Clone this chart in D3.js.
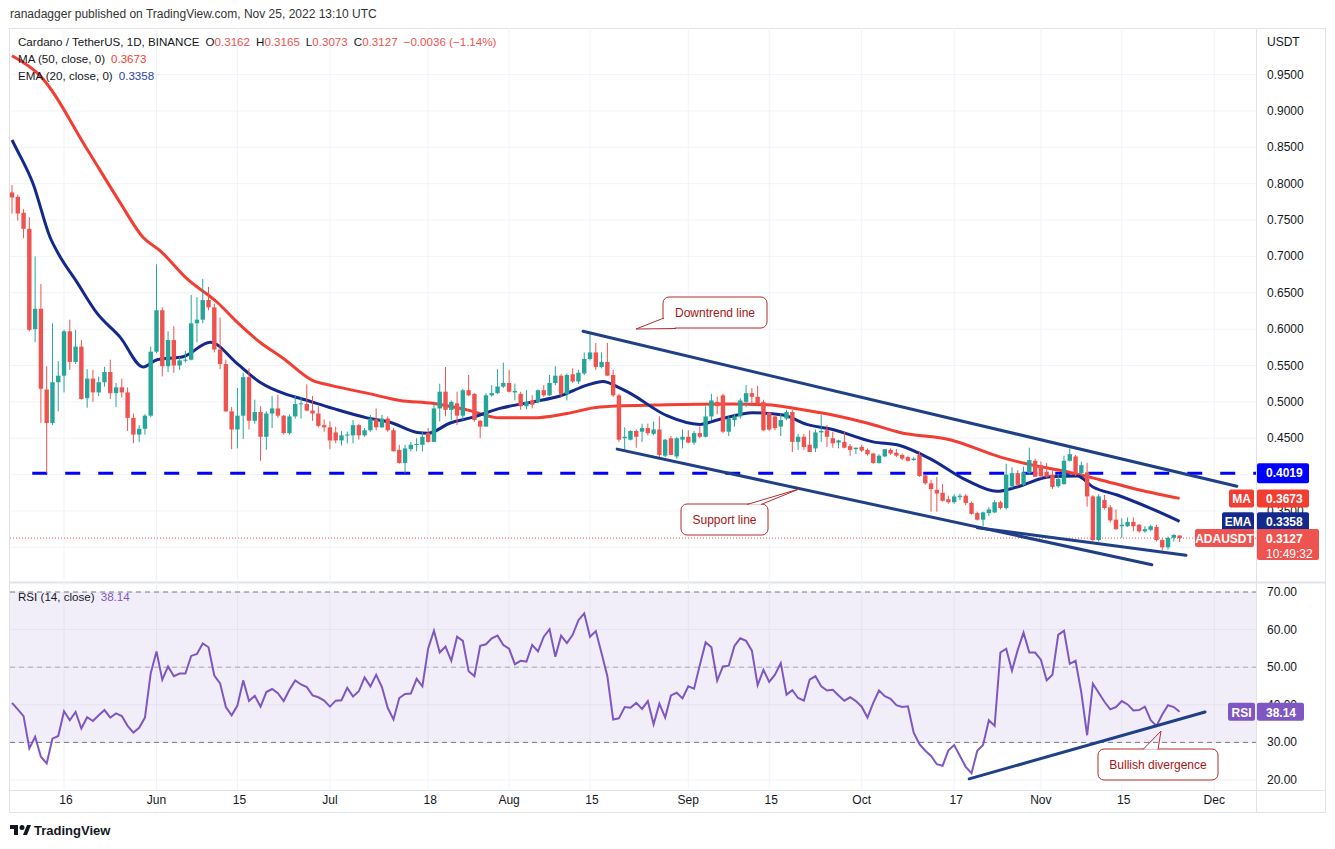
<!DOCTYPE html>
<html>
<head>
<meta charset="utf-8">
<script src="https://cdn.jsdelivr.net/npm/d3@7"></script>
<style>
  html, body { margin: 0; padding: 0; background: #fff; }
  svg { display: block; font-family: "Liberation Sans", Arial, sans-serif; }
</style>
</head>
<body>
<div id="chart"></div>
<script>
// Daily ADA/USDT candles, May 7 .. Nov 25 2022: [open, high, low, close]
const candles = [
  [0.788,0.798,0.759,0.781],[0.782,0.785,0.749,0.759],[0.760,0.765,0.725,0.738],[0.738,0.754,0.597,0.599],
  [0.600,0.700,0.582,0.628],[0.628,0.662,0.471,0.518],[0.517,0.549,0.402,0.471],[0.471,0.608,0.468,0.527],
  [0.527,0.556,0.487,0.536],[0.536,0.599,0.513,0.597],[0.597,0.613,0.544,0.555],[0.555,0.599,0.552,0.576],
  [0.576,0.585,0.503,0.504],[0.505,0.545,0.492,0.532],[0.532,0.544,0.500,0.513],[0.513,0.535,0.508,0.527],
  [0.527,0.548,0.521,0.541],[0.541,0.558,0.504,0.512],[0.512,0.526,0.493,0.520],[0.520,0.532,0.506,0.513],
  [0.513,0.520,0.460,0.478],[0.478,0.484,0.443,0.455],[0.455,0.468,0.445,0.463],[0.463,0.483,0.455,0.481],
  [0.481,0.576,0.479,0.569],[0.569,0.689,0.567,0.626],[0.626,0.630,0.535,0.549],[0.549,0.597,0.541,0.585],
  [0.585,0.604,0.540,0.550],[0.550,0.562,0.544,0.557],[0.557,0.570,0.554,0.558],[0.558,0.647,0.557,0.608],
  [0.608,0.644,0.582,0.613],[0.613,0.669,0.608,0.640],[0.640,0.658,0.626,0.630],[0.630,0.635,0.568,0.572],
  [0.572,0.616,0.545,0.552],[0.552,0.558,0.486,0.487],[0.487,0.493,0.435,0.462],[0.462,0.519,0.436,0.481],
  [0.481,0.540,0.449,0.534],[0.534,0.546,0.462,0.474],[0.474,0.503,0.470,0.486],[0.486,0.494,0.419,0.452],
  [0.452,0.487,0.434,0.484],[0.484,0.508,0.464,0.491],[0.491,0.510,0.478,0.481],[0.481,0.482,0.455,0.457],
  [0.457,0.483,0.455,0.480],[0.480,0.508,0.477,0.497],[0.497,0.507,0.477,0.498],[0.497,0.524,0.487,0.488],
  [0.488,0.508,0.474,0.484],[0.484,0.494,0.465,0.467],[0.468,0.476,0.459,0.465],[0.465,0.473,0.435,0.447],
  [0.458,0.466,0.443,0.447],[0.447,0.460,0.440,0.454],[0.454,0.459,0.443,0.455],[0.454,0.475,0.443,0.468],
  [0.468,0.470,0.448,0.454],[0.454,0.464,0.452,0.461],[0.461,0.482,0.459,0.477],[0.476,0.491,0.461,0.465],
  [0.465,0.482,0.464,0.477],[0.477,0.480,0.459,0.461],[0.461,0.464,0.432,0.432],[0.434,0.441,0.415,0.416],
  [0.416,0.441,0.402,0.436],[0.435,0.445,0.432,0.441],[0.441,0.450,0.432,0.442],[0.441,0.459,0.432,0.452],
  [0.457,0.464,0.444,0.445],[0.445,0.498,0.445,0.491],[0.491,0.525,0.473,0.514],[0.514,0.548,0.480,0.489],
  [0.489,0.502,0.475,0.500],[0.498,0.514,0.468,0.481],[0.481,0.518,0.475,0.516],[0.516,0.537,0.508,0.509],
  [0.511,0.512,0.473,0.475],[0.474,0.475,0.450,0.466],[0.466,0.512,0.466,0.509],[0.509,0.523,0.507,0.512],
  [0.512,0.545,0.511,0.521],[0.521,0.554,0.519,0.526],[0.526,0.544,0.513,0.514],[0.513,0.525,0.502,0.515],
  [0.511,0.514,0.489,0.494],[0.494,0.516,0.490,0.500],[0.502,0.509,0.491,0.496],[0.500,0.517,0.498,0.516],
  [0.516,0.523,0.507,0.509],[0.509,0.537,0.508,0.526],[0.526,0.549,0.523,0.536],[0.536,0.538,0.507,0.511],
  [0.511,0.539,0.502,0.537],[0.538,0.546,0.526,0.528],[0.528,0.544,0.525,0.540],[0.539,0.568,0.537,0.559],
  [0.559,0.594,0.557,0.568],[0.568,0.581,0.544,0.548],[0.548,0.568,0.546,0.555],[0.555,0.581,0.536,0.536],
  [0.537,0.544,0.507,0.509],[0.509,0.511,0.445,0.448],[0.450,0.465,0.434,0.452],[0.448,0.461,0.447,0.460],
  [0.460,0.462,0.437,0.452],[0.459,0.470,0.445,0.464],[0.464,0.470,0.454,0.457],[0.456,0.473,0.454,0.462],
  [0.462,0.480,0.424,0.427],[0.426,0.449,0.424,0.448],[0.450,0.453,0.427,0.427],[0.425,0.452,0.422,0.450],
  [0.448,0.462,0.436,0.452],[0.452,0.461,0.443,0.444],[0.444,0.460,0.441,0.457],[0.457,0.466,0.450,0.452],
  [0.452,0.494,0.451,0.480],[0.480,0.511,0.475,0.502],[0.500,0.507,0.483,0.494],[0.509,0.511,0.457,0.459],
  [0.459,0.480,0.453,0.477],[0.475,0.484,0.466,0.480],[0.480,0.505,0.477,0.502],[0.500,0.523,0.493,0.512],
  [0.512,0.519,0.498,0.507],[0.507,0.522,0.496,0.498],[0.500,0.503,0.460,0.461],[0.485,0.486,0.460,0.462],
  [0.480,0.482,0.461,0.464],[0.466,0.484,0.453,0.475],[0.477,0.489,0.475,0.486],[0.486,0.489,0.431,0.445],
  [0.445,0.456,0.434,0.452],[0.452,0.456,0.434,0.438],[0.441,0.461,0.431,0.431],[0.436,0.462,0.431,0.458],
  [0.458,0.482,0.445,0.460],[0.461,0.468,0.438,0.452],[0.450,0.459,0.437,0.443],[0.444,0.448,0.436,0.447],
  [0.445,0.460,0.436,0.437],[0.439,0.442,0.426,0.434],[0.435,0.437,0.428,0.437],[0.438,0.441,0.431,0.433],
  [0.434,0.436,0.426,0.428],[0.429,0.430,0.415,0.416],[0.416,0.428,0.415,0.426],[0.425,0.435,0.424,0.435],
  [0.434,0.436,0.427,0.429],[0.430,0.435,0.424,0.426],[0.427,0.429,0.420,0.422],[0.424,0.426,0.418,0.419],
  [0.420,0.424,0.419,0.422],[0.427,0.432,0.397,0.398],[0.399,0.400,0.386,0.388],[0.388,0.393,0.349,0.380],
  [0.379,0.397,0.349,0.374],[0.375,0.387,0.363,0.364],[0.366,0.371,0.360,0.362],[0.362,0.373,0.360,0.370],
  [0.369,0.374,0.365,0.371],[0.371,0.373,0.358,0.361],[0.361,0.363,0.345,0.346],[0.347,0.349,0.337,0.338],
  [0.338,0.349,0.329,0.348],[0.347,0.355,0.343,0.352],[0.348,0.365,0.347,0.362],[0.362,0.364,0.352,0.354],
  [0.354,0.415,0.352,0.400],[0.384,0.410,0.381,0.402],[0.402,0.406,0.384,0.386],[0.386,0.411,0.383,0.403],
  [0.402,0.437,0.400,0.420],[0.419,0.422,0.397,0.397],[0.413,0.418,0.395,0.398],[0.404,0.416,0.395,0.397],
  [0.400,0.407,0.380,0.383],[0.384,0.401,0.382,0.394],[0.387,0.426,0.386,0.419],[0.419,0.436,0.418,0.428],
  [0.425,0.427,0.398,0.400],[0.402,0.418,0.400,0.413],[0.403,0.416,0.356,0.370],[0.370,0.372,0.308,0.310],
  [0.310,0.373,0.308,0.370],[0.365,0.372,0.352,0.354],[0.355,0.358,0.334,0.337],[0.338,0.352,0.324,0.325],
  [0.329,0.340,0.313,0.331],[0.329,0.341,0.328,0.335],[0.335,0.341,0.322,0.329],[0.331,0.332,0.320,0.322],
  [0.322,0.329,0.320,0.325],[0.324,0.331,0.322,0.329],[0.328,0.331,0.308,0.310],[0.310,0.312,0.296,0.300],
  [0.300,0.315,0.297,0.313],[0.313,0.318,0.308,0.317],[0.3162,0.3165,0.3073,0.3127]
];

// MA(50): [day, value]
const maPoints = [
  [0,0.976],[4.8,0.949],[13.1,0.846],[18.7,0.774],[22.7,0.726],[25.6,0.708],[30.3,0.669],[35.5,0.637],
  [38.9,0.610],[42.9,0.582],[46.9,0.560],[51.9,0.530],[55.5,0.522],[61.4,0.512],[67.1,0.502],[72.8,0.498],
  [78.7,0.489],[84.4,0.478],[90.1,0.478],[96,0.484],[101.7,0.493],[113.3,0.496],[124.7,0.497],[130.6,0.496],
  [136.3,0.490],[142,0.482],[147.9,0.471],[153.6,0.458],[162.3,0.448],[171,0.424],[176.6,0.413],[182.5,0.404],
  [188.2,0.393],[194,0.381],[202,0.3673]
];

// EMA(20): [day, value]
const emaPoints = [
  [0,0.860],[0.9,0.846],[3.6,0.801],[6.6,0.726],[8,0.704],[11.2,0.665],[14.7,0.622],[18.7,0.589],
  [22.7,0.548],[25.1,0.558],[29.6,0.562],[34.3,0.582],[38.9,0.553],[42.9,0.527],[47.6,0.510],[49.8,0.505],
  [55.5,0.491],[61.4,0.478],[65.4,0.472],[70.1,0.458],[72,0.457],[75.8,0.471],[79.8,0.479],[84.4,0.491],
  [90.1,0.500],[94.8,0.508],[99.5,0.523],[102.2,0.528],[105.2,0.519],[106.9,0.512],[113.3,0.481],[119,0.469],
  [122,0.475],[128.2,0.485],[133.4,0.482],[137.5,0.469],[142,0.462],[149,0.445],[153.6,0.440],[158.8,0.422],
  [165.2,0.392],[170.4,0.377],[173.9,0.383],[179.6,0.397],[184.3,0.398],[187,0.383],[191.2,0.372],[196.9,0.354],
  [202,0.3358]
];

// RSI(14), one value per candle
const rsiValues = [
  40.5,38.8,37,28.4,31.5,26.2,24.4,31,31.7,38.3,35.9,38.1,33.7,36.7,35.7,37.2,38.6,36.6,37.7,37,
  34.4,32.6,33.9,36.6,48.4,54.2,46.7,50.2,47.6,48.3,48.3,53,53.5,56.3,55.3,47.8,45.7,39.4,37.2,39.8,
  46.5,41,42.4,39.5,43.4,44.2,43.1,41,44,46.5,45.4,44.7,42.5,42,41.1,39.5,41.1,41.2,44.5,42.2,
  43.6,47.3,44.9,48,44.7,39.2,36.1,41.8,42.9,43,46.9,
  44.9,55,59.7,53.9,55.5,51.7,58.1,57,48.9,47.6,55.7,56.1,57.7,58.4,55.9,54.9,50.8,51.7,51.5,55.9,
  54.2,58.1,60.1,52.8,58.4,56.4,58.6,62.5,64.3,58.1,59.6,53.7,47.6,36.1,36.4,39.4,39.2,40.5,38.9,41,
  34.8,40.3,36.6,42.5,43.2,41.7,44.9,44.3,50.6,56.6,55.3,46.4,50.2,50.4,55.7,57.7,57,54.4,45.2,49.3,
  46.1,48,51.1,42.7,43.9,41.8,41.1,46.7,47.6,
  44.9,
  43.8,44,42.5,41.1,42,41,39.5,36.6,40.5,43.8,42.3,41.6,39.9,39.4,39.6,32.6,29.5,27.8,26.4,24.2,
  23.8,27.9,29.3,26.4,23.5,21.8,27.8,29.3,35.9,34.4,53.9,54.9,49.1,54.6,59.2,53.9,53.9,52,46.5,48,
  58.6,59.7,50.9,51.7,43.2,31.9,45.6,43.2,40.8,38.8,39.4,41,40.1,38.5,38.6,39.5,35.9,34.4,37.4,39.9,
  39.4,38.14
];

const tickDays = [9, 25, 39, 55, 72, 86, 100, 117, 131, 147, 163, 178, 192, 208];
const tickLabels = ["16", "Jun", "15", "Jul", "18", "Aug", "15", "Sep", "15", "Oct", "17", "Nov", "15", "Dec"];
const priceTicks = [0.95, 0.90, 0.85, 0.80, 0.75, 0.70, 0.65, 0.60, 0.55, 0.50, 0.45, 0.35];
const rsiTicks = [70, 60, 50, 40, 30, 20];

// Drawn trend lines: [[day, value], [day, value]]
const downtrendLine = [[98.8, 0.597], [211.9, 0.384]];
const supportLine = [[104.7, 0.435], [197.2, 0.276]];
const lowerLine = [[167, 0.327], [203.1, 0.289]];
const rsiLine = [[165.6, 20.3], [206.4, 38.1]];
const keyLevel = 0.4019;

// Figure
const width = 1335;
const height = 849;
const plotRight = 1256;
const priceTop = 28, priceBottom = 582;
const rsiTop = 585, rsiBottom = 790;

const svg = d3.select("#chart").append("svg")
    .attr("width", width)
    .attr("height", height)
    .attr("font-size", 12);

const x = d3.scaleLinear().domain([0, 202]).range([12, 1179.6]);
const y = d3.scaleLinear().domain([0.40, 0.95]).range([474.6, 74.6]);
const yr = d3.scaleLinear().domain([20, 70]).range([780, 592]);

const GREEN = "#26a69a", RED = "#ef5350", MA_COLOR = "#f23d32", EMA_COLOR = "#13298c";
const LINE_COLOR = "#1f3f86", GRID = "#f0f3fa";

svg.append("defs").append("clipPath").attr("id", "clipPrice")
  .append("rect").attr("x", 0).attr("y", priceTop).attr("width", plotRight).attr("height", priceBottom - priceTop);

// Header
svg.append("text").attr("x", 10).attr("y", 18).attr("fill", "#333").attr("font-size", 12)
  .text("ranadagger published on TradingView.com, Nov 25, 2022 13:10 UTC");

// Frame lines
svg.append("rect").attr("x", 9.5).attr("y", priceTop + 0.5).attr("width", width - 19).attr("height", 784)
  .attr("fill", "none").attr("stroke", "#e0e3eb");
svg.append("line").attr("x1", plotRight + 0.5).attr("x2", plotRight + 0.5).attr("y1", priceTop).attr("y2", 812)
  .attr("stroke", "#e0e3eb");
svg.append("line").attr("x1", 10).attr("x2", width - 10).attr("y1", rsiTop - 2.5).attr("y2", rsiTop - 2.5)
  .attr("stroke", "#e0e3eb").attr("stroke-width", 2);
svg.append("line").attr("x1", 10).attr("x2", width - 10).attr("y1", rsiBottom + 0.5).attr("y2", rsiBottom + 0.5)
  .attr("stroke", "#e0e3eb");

// Grid
const grid = svg.append("g");
grid.selectAll(".vg").data(tickDays).join("line")
  .attr("x1", d => x(d)).attr("x2", d => x(d))
  .attr("y1", priceTop).attr("y2", rsiBottom)
  .attr("stroke", GRID);
grid.selectAll(".hg").data(priceTicks.concat([0.40, 0.30])).join("line")
  .attr("x1", 10).attr("x2", plotRight).attr("y1", d => y(d)).attr("y2", d => y(d))
  .attr("stroke", GRID);
grid.selectAll(".rg").data(rsiTicks).join("line")
  .attr("x1", 10).attr("x2", plotRight).attr("y1", d => yr(d)).attr("y2", d => yr(d))
  .attr("stroke", GRID);

// Price panel
const price = svg.append("g").attr("clip-path", "url(#clipPrice)");

// Key level
price.append("line")
  .attr("x1", x(3.5)).attr("x2", plotRight)
  .attr("y1", y(keyLevel)).attr("y2", y(keyLevel))
  .attr("stroke", "#0000ff").attr("stroke-width", 3).attr("stroke-dasharray", "15,18");

// Last price dotted line
price.append("line")
  .attr("x1", 10).attr("x2", plotRight)
  .attr("y1", y(0.3127)).attr("y2", y(0.3127))
  .attr("stroke", RED).attr("stroke-dasharray", "1,2");

// Moving averages
const avgLine = d3.line().x(d => x(d[0])).y(d => y(d[1])).curve(d3.curveMonotoneX);
price.append("path").datum(maPoints).attr("d", avgLine)
  .attr("fill", "none").attr("stroke", MA_COLOR).attr("stroke-width", 3);
price.append("path").datum(emaPoints).attr("d", avgLine)
  .attr("fill", "none").attr("stroke", EMA_COLOR).attr("stroke-width", 3);

// Candles
const candle = price.append("g").selectAll("g").data(candles).join("g");
candle.append("line")
  .attr("x1", (d, i) => x(i)).attr("x2", (d, i) => x(i))
  .attr("y1", d => y(d[1])).attr("y2", d => y(d[2]))
  .attr("stroke", d => d[3] >= d[0] ? GREEN : RED).attr("stroke-width", 1);
candle.append("rect")
  .attr("x", (d, i) => x(i) - 2.2).attr("width", 4.4)
  .attr("y", d => y(Math.max(d[0], d[3])))
  .attr("height", d => Math.max(1, Math.abs(y(d[0]) - y(d[3]))))
  .attr("fill", d => d[3] >= d[0] ? GREEN : RED);

// Trend lines
const segment = (g, pts, scale) => g.append("line")
  .attr("x1", x(pts[0][0])).attr("y1", scale(pts[0][1]))
  .attr("x2", x(pts[1][0])).attr("y2", scale(pts[1][1]))
  .attr("stroke", LINE_COLOR).attr("stroke-width", 3).attr("stroke-linecap", "round");
segment(price, downtrendLine, y);
segment(price, supportLine, y);
segment(price, lowerLine, y);

// Callouts
function callout(bx, by, bw, bh, tip, base, label) {
  const g = svg.append("g");
  const tail = `M${base[0]},${base[1]} L${tip[0]},${tip[1]} L${base[2]},${base[3]}`;
  g.append("rect").attr("x", bx).attr("y", by).attr("width", bw).attr("height", bh).attr("rx", 6)
    .attr("fill", "#fff").attr("stroke", "#b22d2d");
  g.append("path").attr("d", tail).attr("fill", "#fff").attr("stroke", "none");
  g.append("path").attr("d", tail).attr("fill", "none").attr("stroke", "#b22d2d");
  g.append("text").attr("x", bx + bw / 2).attr("y", by + bh / 2 + 4.5)
    .attr("text-anchor", "middle").attr("fill", "#a31515").attr("font-size", 12).text(label);
}
callout(663, 297, 104, 31, [636, 329], [664, 318, 676, 328.5], "Downtrend line");
callout(681, 504, 87, 31, [799, 489], [747, 504.5, 761, 504.5], "Support line");
callout(1098, 749, 120, 31, [1161, 731], [1143, 749.5, 1158, 749.5], "Bullish divergence");

// Legend
const legend = svg.append("text").attr("x", 18).attr("y", 46).attr("fill", "#131722").attr("font-size", 11.6);
legend.append("tspan").text("Cardano / TetherUS, 1D, BINANCE");
[["O", "0.3162"], ["H", "0.3165"], ["L", "0.3073"], ["C", "0.3127"]].forEach(([k, v]) => {
  legend.append("tspan").attr("dx", 6).text(k);
  legend.append("tspan").attr("fill", RED).text(v);
});
legend.append("tspan").attr("dx", 6).attr("fill", RED).text("\u22120.0036 (\u22121.14%)");

svg.append("text").attr("x", 18).attr("y", 63).attr("fill", "#131722").attr("font-size", 11.6)
  .text("MA (50, close, 0)").append("tspan").attr("dx", 6).attr("fill", MA_COLOR).text("0.3673");
svg.append("text").attr("x", 18).attr("y", 80).attr("fill", "#131722").attr("font-size", 11.6)
  .text("EMA (20, close, 0)").append("tspan").attr("dx", 6).attr("fill", "#2a44b0").text("0.3358");

// Price axis
svg.append("text").attr("x", 1267).attr("y", 46).attr("fill", "#131722").text("USDT");
svg.selectAll(".pt").data(priceTicks).join("text")
  .attr("x", 1267).attr("y", d => y(d) + 4).attr("fill", "#131722")
  .text(d => d.toFixed(4));

function tag(xx, yy, w, h, fill, lines, anchor) {
  svg.append("rect").attr("x", xx).attr("y", yy).attr("width", w).attr("height", h).attr("rx", 2).attr("fill", fill);
  lines.forEach((t, i) => svg.append("text")
    .attr("x", anchor === "middle" ? xx + w / 2 : xx + 9).attr("y", yy + 14 + i * 15)
    .attr("text-anchor", anchor === "middle" ? "middle" : "start")
    .attr("fill", "#fff").attr("font-weight", i === 0 ? "bold" : "normal").attr("font-size", 12).text(t));
}
tag(1257, y(keyLevel) - 10, 52, 20, "#0000ff", ["0.4019"]);
tag(1229, y(0.3673) - 9, 25, 18, "#f23d32", ["MA"], "middle");
tag(1257, y(0.3673) - 9, 52, 18, "#f23d32", ["0.3673"]);
tag(1222, y(0.3358) - 9, 32, 18, EMA_COLOR, ["EMA"], "middle");
tag(1257, y(0.3358) - 9, 52, 18, EMA_COLOR, ["0.3358"]);
tag(1195, y(0.3127) - 9, 59, 18, RED, ["ADAUSDT"], "middle");
tag(1257, y(0.3127) - 9, 62, 31, RED, ["0.3127", "10:49:32"]);

// RSI panel
const rsiG = svg.append("g");
rsiG.append("rect").attr("x", 10).attr("width", plotRight - 10)
  .attr("y", yr(70)).attr("height", yr(30) - yr(70)).attr("fill", "#7e57c2").attr("opacity", 0.1);
rsiG.selectAll(".rl").data([70, 50, 30]).join("line")
  .attr("x1", 10).attr("x2", plotRight).attr("y1", d => yr(d)).attr("y2", d => yr(d))
  .attr("stroke", d => d === 50 ? "#a9a9b3" : "#787b86").attr("stroke-dasharray", "5,4");
rsiG.append("path").datum(rsiValues)
  .attr("d", d3.line().x((d, i) => x(i)).y(d => yr(d)))
  .attr("fill", "none").attr("stroke", "#7e57c2").attr("stroke-width", 2);
segment(rsiG, rsiLine, yr);

svg.append("text").attr("x", 18).attr("y", 601).attr("fill", "#131722").attr("font-size", 11.6)
  .text("RSI (14, close)").append("tspan").attr("dx", 6).attr("fill", "#7e57c2").text("38.14");
svg.selectAll(".rt").data(rsiTicks).join("text")
  .attr("x", 1267).attr("y", d => yr(d) + 4).attr("fill", "#131722")
  .text(d => d.toFixed(2));
tag(1228, yr(38.14) - 9, 27, 18, "#7e57c2", ["RSI"], "middle");
tag(1257, yr(38.14) - 9, 47, 18, "#7e57c2", ["38.14"]);

// Time axis
svg.selectAll(".xt").data(tickDays).join("text")
  .attr("x", (d, i) => x(d) + (tickLabels[i].length === 2 && !isNaN(tickLabels[i]) ? 2 : 0))
  .attr("y", 804).attr("text-anchor", "middle").attr("fill", "#131722")
  .text((d, i) => tickLabels[i]);

// Footer logo
const logo = svg.append("g").attr("transform", "translate(10,825)");
logo.append("path").attr("d", "M0,0 H8 V10 H4 V4 H0 Z").attr("fill", "#131722");
logo.append("circle").attr("cx", 12).attr("cy", 2.5).attr("r", 2.5).attr("fill", "#131722");
logo.append("path").attr("d", "M13,10 L17,0 H21 L17,10 Z").attr("fill", "#131722");
svg.append("text").attr("x", 34).attr("y", 835).attr("fill", "#131722")
  .attr("font-size", 13).attr("font-weight", "bold").text("TradingView");
</script>
</body>
</html>
